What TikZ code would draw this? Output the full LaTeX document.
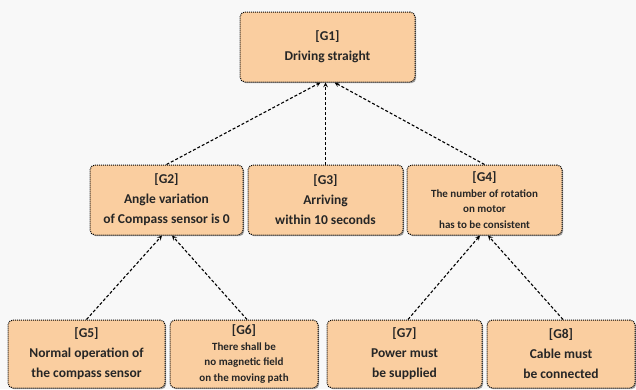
\documentclass[tikz,border=0pt]{standalone}
\usepackage{fontspec}
\setmainfont{Carlito}
\usetikzlibrary{shadows}
\definecolor{goalfill}{RGB}{250,206,160}
\definecolor{pagebg}{RGB}{248,248,248}

\begin{document}
\begin{tikzpicture}
[x=1pt, y=1pt, every node/.style={inner sep=0pt},
 goal/.style={rectangle, rounded corners=5pt, fill=goalfill, draw=black, densely dotted, line width=1pt, align=center, font=\bfseries\fontsize{13.5}{20}\selectfont, text=black!85, drop shadow={shadow xshift=1.2pt, shadow yshift=-1.2pt, fill=black!70}},
 small/.style={font=\bfseries\fontsize{11}{15.5}\selectfont},
 link/.style={line width=1.1pt, densely dashed, -stealth}]
\fill [pagebg] (0,0) rectangle (636,-389);
\useasboundingbox (0,0) rectangle (636,-389);
\node (g1) [goal, minimum width=175pt, minimum height=70pt] at (327.5pt, -47pt) {[G1]\\Driving straight};
\node (g2) [goal, minimum width=153pt, minimum height=70pt] at (166.5pt, -200pt) {[G2]\\Angle variation\\of Compass sensor is 0};
\node (g3) [goal, minimum width=155pt, minimum height=70pt] at (325.5pt, -200pt) {[G3]\\Arriving\\within 10 seconds};
\node (g4) [goal, small, minimum width=155pt, minimum height=70pt] at (484.5pt, -200pt) {{\fontsize{13.5}{15}\selectfont [G4]}\\The number of rotation\\on motor\\has to be consistent};
\node (g5) [goal, minimum width=157pt, minimum height=68pt] at (86.5pt, -354pt) {[G5]\\Normal operation of\\the compass sensor};
\node (g6) [goal, small, minimum width=148pt, minimum height=68pt] at (244pt, -354pt) {{\fontsize{13.5}{15}\selectfont [G6]}\\There shall be\\no magnetic field\\on the moving path};
\node (g7) [goal, minimum width=155pt, minimum height=68pt] at (404.5pt, -354pt) {[G7]\\Power must\\be supplied};
\node (g8) [goal, minimum width=148pt, minimum height=68pt] at (561pt, -354pt) {[G8]\\Cable must\\be connected};
\draw [link] (g2.north) to ([xshift=-7pt]g1.south);
\draw [link] (g3.north) to ([xshift=-2pt]g1.south);
\draw [link] (g4.north) to ([xshift=7pt]g1.south);
\draw [link] (g5.north) to ([xshift=-4.5pt]g2.south);
\draw [link] ([xshift=3pt]g6.north) to ([xshift=5.5pt]g2.south);
\draw [link] ([xshift=3.5pt]g7.north) to ([xshift=-4.5pt]g4.south);
\draw [link] ([xshift=2pt]g8.north) to ([xshift=3.5pt]g4.south);
\end{tikzpicture}
\end{document}
